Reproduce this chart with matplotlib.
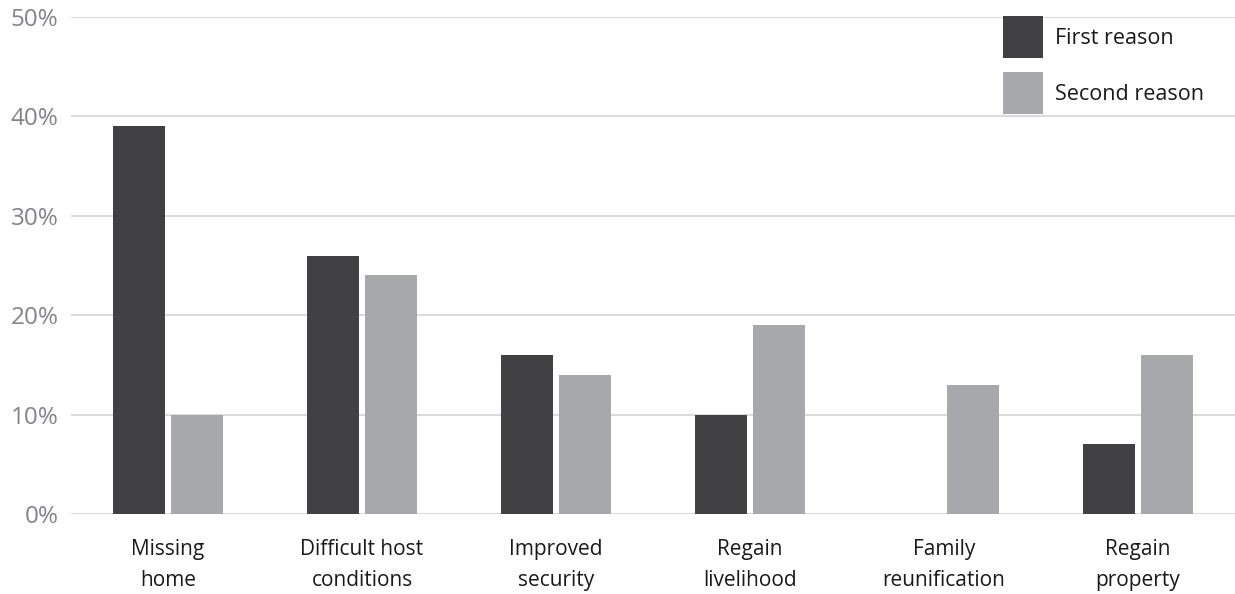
import matplotlib
matplotlib.use("Agg")
import matplotlib.pyplot as plt
from matplotlib.patches import Patch
import numpy as np

categories = ["Missing\nhome", "Difficult host\nconditions", "Improved\nsecurity",
              "Regain\nlivelihood", "Family\nreunification", "Regain\nproperty"]
first_reason = [39, 26, 16, 10, 0, 7]
second_reason = [10, 24, 14, 19, 13, 16]
yticks = [0, 10, 20, 30, 40, 50]
ytick_labels = ["0%", "10%", "20%", "30%", "40%", "50%"]

plt.rcParams['font.family'] = ['Open Sans', 'DejaVu Sans']

dark = "#414143"
light = "#a7a8ab"
grid = "#d4d4d4"

fig = plt.figure(figsize=(12.35, 5.94), dpi=100)
ax = fig.add_axes([0.0575, 0.1347, 0.9425, 0.8367])

x = np.arange(len(categories))
w = 0.273
gap = 0.013
ax.bar(x - w / 2 - gap, first_reason, width=w, color=dark, zorder=3)
ax.bar(x + w / 2 + gap, second_reason, width=w, color=light, zorder=3)

ax.set_xlim(-0.5, len(categories) - 0.5)
ax.set_ylim(0, 50)
ax.set_yticks(yticks)
ax.set_yticklabels(ytick_labels, color="#838487", fontsize=17.5)
ax.set_xticks(x)
ax.set_xticklabels(categories, color="#1a1a1a", fontsize=15, linespacing=1.62)
ax.tick_params(axis="both", length=0)
ax.tick_params(axis="y", pad=9)
ax.tick_params(axis="x", pad=18)
for s in ax.spines.values():
    s.set_visible(False)
ax.yaxis.grid(True, color=grid, linewidth=1.2, zorder=0)
ax.set_axisbelow(True)

handles = [Patch(facecolor=dark, label="First reason"),
           Patch(facecolor=light, label="Second reason")]
leg = ax.legend(handles=handles, loc="upper left", bbox_to_anchor=(0.8007, 1.002),
                frameon=False, prop={"size": 15.5},
                handlelength=1.86, handleheight=2.63, borderpad=0,
                handletextpad=0.56, labelspacing=0.65, borderaxespad=0)
for t in leg.get_texts():
    t.set_color("#1a1a1a")

fig.savefig("out.png", dpi=100)
